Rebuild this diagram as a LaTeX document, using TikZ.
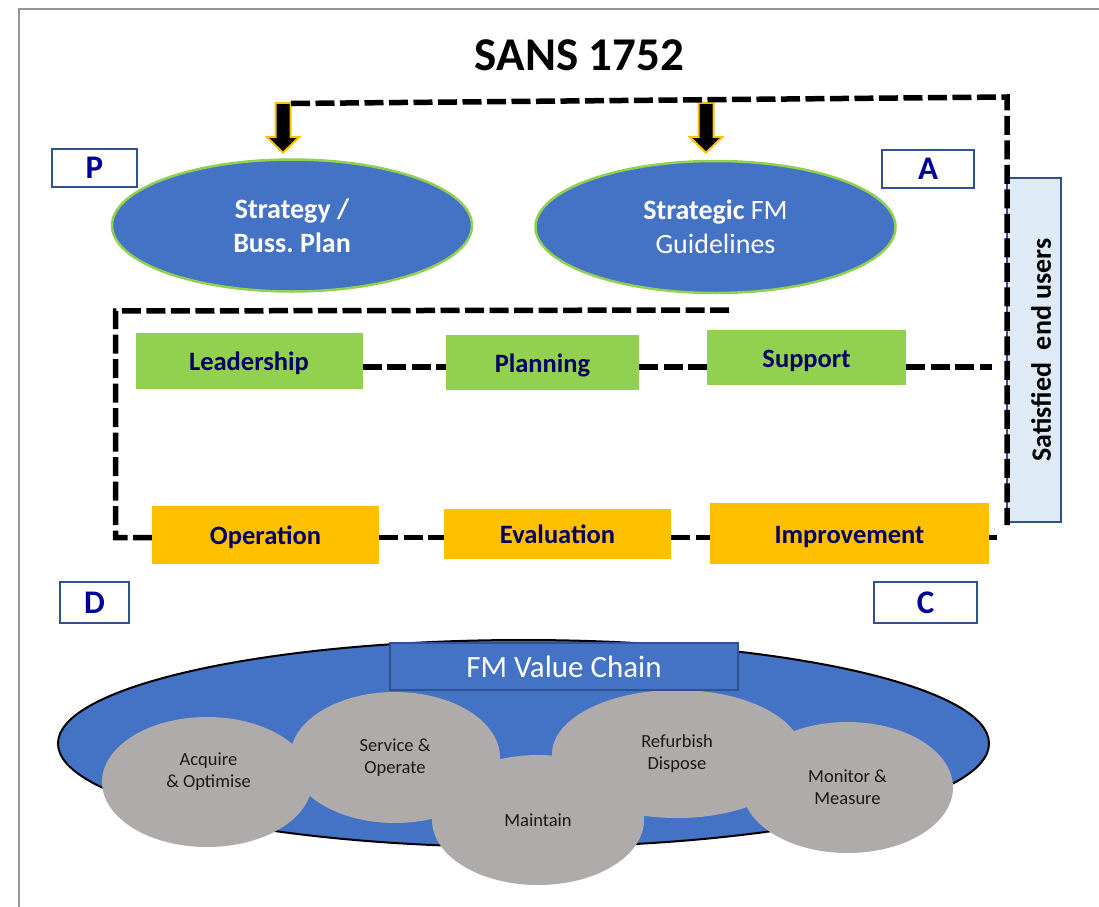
\documentclass[tikz,border=0pt]{standalone}
\usepackage{fontspec}
\setmainfont{Carlito}
\usetikzlibrary{shapes.geometric,calc}
\definecolor{bluefill}{RGB}{68,114,196}
\definecolor{greenline}{RGB}{146,208,80}
\definecolor{greenbox}{RGB}{146,208,80}
\definecolor{goldbox}{RGB}{255,192,0}
\definecolor{grayfill}{RGB}{175,171,171}
\definecolor{lightblue}{RGB}{222,235,247}
\definecolor{borderblue}{RGB}{47,82,143}
\definecolor{letterblue}{RGB}{0,0,153}
\definecolor{navytext}{RGB}{0,0,102}
\definecolor{framegray}{RGB}{150,150,150}
\begin{document}
\frenchspacing
\begin{tikzpicture}[x=1bp,y=-1bp,
  dashline/.style={line width=5.5bp, dash pattern=on 19bp off 5.5bp},
  letterbox/.style={rectangle, draw=borderblue, line width=2bp, fill=white, inner sep=0pt,
    text=letterblue, font=\fontsize{33bp}{36bp}\selectfont\bfseries},
  topell/.style={ellipse, draw=greenline, line width=2.5bp, fill=bluefill, text=white, align=center,
    inner sep=0pt, minimum width=360bp, minimum height=132bp, font=\fontsize{28bp}{34bp}\selectfont},
  greenstep/.style={rectangle, fill=greenbox, text=navytext, inner sep=0pt,
    text height=19.5bp, text depth=0bp, font=\fontsize{26.5bp}{30bp}\selectfont\bfseries},
  goldstep/.style={rectangle, fill=goldbox, text=navytext, inner sep=0pt,
    text height=19.5bp, text depth=0bp, font=\fontsize{26.5bp}{30bp}\selectfont\bfseries},
  grayell/.style={ellipse, fill=grayfill, inner sep=0pt, align=center, text=black!90,
    font=\fontsize{18.5bp}{22bp}\selectfont},
  smalltext/.style={align=center, text=black!90, inner sep=0pt, font=\fontsize{18.5bp}{22bp}\selectfont},
  blockarrow/.style={fill=black, draw=goldbox, line width=2bp, line join=miter}
]
\useasboundingbox (0,0) rectangle (1099,907);
% frame
\draw[framegray, line width=2bp] (19,925) -- (19,9.3) -- (1115,9.3);

% title
\node[inner sep=0pt, font=\fontsize{47bp}{50bp}\selectfont\bfseries] (title) at (579.5,55) {SANS 1752};

% PDCA letters
\node[letterbox, minimum width=85bp, minimum height=38bp] (P) at (94.5,168) {P};
\node[letterbox, minimum width=92bp, minimum height=38bp] (A) at (928,169) {A};
\node[letterbox, minimum width=69bp, minimum height=41bp] (D) at (94.5,602.5) {D};
\node[letterbox, minimum width=103bp, minimum height=41bp] (C) at (925.5,602.5) {C};

% top ellipses
\node[topell] (strat) at (292,225.5) {\bfseries Strategy /\\\bfseries Buss. Plan};
\node[topell] (sfm) at (715.5,227) {{\bfseries Strategic} FM\\Guidelines};

% block arrows
\coordinate (tip1) at ($(strat.north)+(-9,-5.5)$);
\coordinate (tip2) at ($(sfm.north)+(-9.5,-7)$);
\draw[blockarrow] (tip1) -- ++(-16.5,-16) -- ++(9,0) -- ++(0,-34) -- ++(15,0) -- ++(0,34) -- ++(9,0) -- cycle;
\draw[blockarrow] (tip2) -- ++(-16.5,-16) -- ++(9,0) -- ++(0,-34) -- ++(15,0) -- ++(0,34) -- ++(9,0) -- cycle;

% green steps
\node[greenstep, minimum width=227bp, minimum height=56bp] (lead) at (249,361) {Leadership};
\node[greenstep, minimum width=193bp, minimum height=55bp] (plan) at (542.5,362.5) {Planning};
\node[greenstep, minimum width=199bp, minimum height=55bp] (supp) at (806.5,357.5) {Support};

% gold steps
\node[goldstep, minimum width=227bp, minimum height=58bp] (oper) at (265.5,535) {Operation};
\node[goldstep, minimum width=227bp, minimum height=50bp] (eval) at (557.5,534) {Evaluation};
\node[goldstep, minimum width=279bp, minimum height=61bp] (impr) at (849.5,533.5) {Improvement};

% satisfied end users
\node[rectangle, draw=borderblue, line width=2bp, fill=lightblue, minimum width=54bp, minimum height=344bp] (sat) at (1034,350) {};
\node[rotate=90, inner sep=0pt, font=\fontsize{28bp}{30bp}\selectfont\bfseries] (satT) at (1041,350) {Satisfied\ \ end users};

% dashed connectors
\coordinate (rowA) at (0,367);
\coordinate (rowB) at (0,537.5);
\coordinate (supEnd) at (992,367);
\coordinate (imprEnd) at (997,537.5);
\coordinate (topL) at (291,103.5);
\coordinate (topR) at (1007,97);
\coordinate (topB) at (1007,525);
\coordinate (loopR) at (729,310);
\coordinate (loopTL) at (115.5,311);
\coordinate (loopBL) at (115.5,537.5);
\draw[dashline] (lead.east |- rowA) -- (plan.west |- rowA);
\draw[dashline] (plan.east |- rowA) -- (supp.west |- rowA);
\draw[dashline] (supp.east |- rowA) -- (supEnd);
\draw[dashline] (oper.east |- rowB) -- (eval.west |- rowB);
\draw[dashline] (eval.east |- rowB) -- (impr.west |- rowB);
\draw[dashline] (impr.east |- rowB) -- (imprEnd);
\draw[dashline] (topL) -- (topR) -- (topB);
\draw[dashline] (loopR) -- (loopTL) -- (loopBL) -- (oper.west |- loopBL);

% FM value chain
\node[ellipse, draw=black, line width=2bp, fill=bluefill, minimum width=931bp, minimum height=207bp, inner sep=0pt] (vc) at (523.5,743.5) {};
\node[grayell, minimum width=210bp, minimum height=130bp] (acq) at (207,782) {};
\node[smalltext] (acqT) at (208.5,771.5) {Acquire\\\& Optimise};
\node[grayell, minimum width=210bp, minimum height=131bp] (serv) at (395,757.5) {Service \&\\Operate};
\node[grayell, minimum width=250bp, minimum height=128bp] (refb) at (677,754) {Refurbish\\Dispose};
\node[grayell, minimum width=212bp, minimum height=130bp] (maint) at (538,820) {Maintain};
\node[grayell, minimum width=211bp, minimum height=131bp] (mon) at (847.5,787.5) {Monitor \&\\Measure};
\node[rectangle, draw=borderblue, line width=2bp, fill=bluefill, text=white, inner sep=0pt,
  minimum width=348bp, minimum height=47bp, font=\fontsize{31bp}{34bp}\selectfont] (fmvc) at (564,666.5) {FM Value Chain};
\end{tikzpicture}
\end{document}
